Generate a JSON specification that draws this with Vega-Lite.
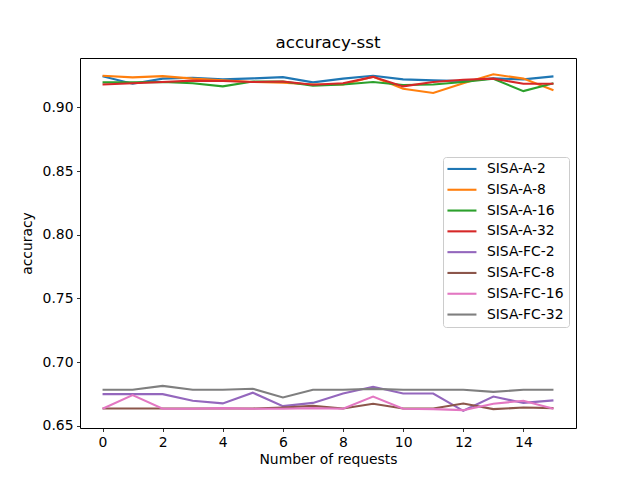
{
  "$schema": "https://vega.github.io/schema/vega-lite/v6.json",
  "width": 496,
  "height": 370,
  "autosize": {"type": "none"},
  "padding": {"left": 80, "top": 58, "right": 64, "bottom": 52},
  "title": {"text": "accuracy-sst", "fontSize": 16.7, "fontWeight": "normal", "font": "DejaVu Sans", "color": "black", "baseline": "alphabetic", "offset": -7},
  "config": {
    "font": "DejaVu Sans",
    "view": {"stroke": "black", "strokeWidth": 1},
    "axis": {
      "domain": false, "grid": false, "tickColor": "black", "tickSize": 3.5, "tickWidth": 0.8,
      "labelFontSize": 13.9, "labelColor": "black", "labelPadding": 3.5,
      "titleFontSize": 13.9, "titleFontWeight": "normal", "titleColor": "black"
    }
  },
  "data": {
    "values": [
      {"series": "SISA-A-2", "x": 0, "acc": 0.9244}, {"series": "SISA-A-2", "x": 1, "acc": 0.9186},
      {"series": "SISA-A-2", "x": 2, "acc": 0.9226}, {"series": "SISA-A-2", "x": 3, "acc": 0.9233},
      {"series": "SISA-A-2", "x": 4, "acc": 0.922}, {"series": "SISA-A-2", "x": 5, "acc": 0.9228},
      {"series": "SISA-A-2", "x": 6, "acc": 0.9238}, {"series": "SISA-A-2", "x": 7, "acc": 0.9197},
      {"series": "SISA-A-2", "x": 8, "acc": 0.9226}, {"series": "SISA-A-2", "x": 9, "acc": 0.9249},
      {"series": "SISA-A-2", "x": 10, "acc": 0.922}, {"series": "SISA-A-2", "x": 11, "acc": 0.9212},
      {"series": "SISA-A-2", "x": 12, "acc": 0.9207}, {"series": "SISA-A-2", "x": 13, "acc": 0.9228},
      {"series": "SISA-A-2", "x": 14, "acc": 0.922}, {"series": "SISA-A-2", "x": 15, "acc": 0.9244},

      {"series": "SISA-A-8", "x": 0, "acc": 0.9249}, {"series": "SISA-A-8", "x": 1, "acc": 0.9236},
      {"series": "SISA-A-8", "x": 2, "acc": 0.9246}, {"series": "SISA-A-8", "x": 3, "acc": 0.9226},
      {"series": "SISA-A-8", "x": 4, "acc": 0.9212}, {"series": "SISA-A-8", "x": 5, "acc": 0.92},
      {"series": "SISA-A-8", "x": 6, "acc": 0.9194}, {"series": "SISA-A-8", "x": 7, "acc": 0.918},
      {"series": "SISA-A-8", "x": 8, "acc": 0.918}, {"series": "SISA-A-8", "x": 9, "acc": 0.924},
      {"series": "SISA-A-8", "x": 10, "acc": 0.9147}, {"series": "SISA-A-8", "x": 11, "acc": 0.9113},
      {"series": "SISA-A-8", "x": 12, "acc": 0.919}, {"series": "SISA-A-8", "x": 13, "acc": 0.926},
      {"series": "SISA-A-8", "x": 14, "acc": 0.9226}, {"series": "SISA-A-8", "x": 15, "acc": 0.9134},

      {"series": "SISA-A-16", "x": 0, "acc": 0.9197}, {"series": "SISA-A-16", "x": 1, "acc": 0.9197},
      {"series": "SISA-A-16", "x": 2, "acc": 0.92}, {"series": "SISA-A-16", "x": 3, "acc": 0.919},
      {"series": "SISA-A-16", "x": 4, "acc": 0.9165}, {"series": "SISA-A-16", "x": 5, "acc": 0.9203},
      {"series": "SISA-A-16", "x": 6, "acc": 0.9203}, {"series": "SISA-A-16", "x": 7, "acc": 0.9171},
      {"series": "SISA-A-16", "x": 8, "acc": 0.918}, {"series": "SISA-A-16", "x": 9, "acc": 0.92},
      {"series": "SISA-A-16", "x": 10, "acc": 0.9176}, {"series": "SISA-A-16", "x": 11, "acc": 0.918},
      {"series": "SISA-A-16", "x": 12, "acc": 0.92}, {"series": "SISA-A-16", "x": 13, "acc": 0.9225},
      {"series": "SISA-A-16", "x": 14, "acc": 0.9128}, {"series": "SISA-A-16", "x": 15, "acc": 0.919},

      {"series": "SISA-A-32", "x": 0, "acc": 0.918}, {"series": "SISA-A-32", "x": 1, "acc": 0.919},
      {"series": "SISA-A-32", "x": 2, "acc": 0.92}, {"series": "SISA-A-32", "x": 3, "acc": 0.921},
      {"series": "SISA-A-32", "x": 4, "acc": 0.9207}, {"series": "SISA-A-32", "x": 5, "acc": 0.92},
      {"series": "SISA-A-32", "x": 6, "acc": 0.9203}, {"series": "SISA-A-32", "x": 7, "acc": 0.9178},
      {"series": "SISA-A-32", "x": 8, "acc": 0.919}, {"series": "SISA-A-32", "x": 9, "acc": 0.924},
      {"series": "SISA-A-32", "x": 10, "acc": 0.9165}, {"series": "SISA-A-32", "x": 11, "acc": 0.92},
      {"series": "SISA-A-32", "x": 12, "acc": 0.9217}, {"series": "SISA-A-32", "x": 13, "acc": 0.9226},
      {"series": "SISA-A-32", "x": 14, "acc": 0.9186}, {"series": "SISA-A-32", "x": 15, "acc": 0.9186},

      {"series": "SISA-FC-2", "x": 0, "acc": 0.6749}, {"series": "SISA-FC-2", "x": 1, "acc": 0.6749},
      {"series": "SISA-FC-2", "x": 2, "acc": 0.6749}, {"series": "SISA-FC-2", "x": 3, "acc": 0.6697},
      {"series": "SISA-FC-2", "x": 4, "acc": 0.6676}, {"series": "SISA-FC-2", "x": 5, "acc": 0.676},
      {"series": "SISA-FC-2", "x": 6, "acc": 0.6655}, {"series": "SISA-FC-2", "x": 7, "acc": 0.668},
      {"series": "SISA-FC-2", "x": 8, "acc": 0.6754}, {"series": "SISA-FC-2", "x": 9, "acc": 0.6807},
      {"series": "SISA-FC-2", "x": 10, "acc": 0.6754}, {"series": "SISA-FC-2", "x": 11, "acc": 0.6754},
      {"series": "SISA-FC-2", "x": 12, "acc": 0.6618}, {"series": "SISA-FC-2", "x": 13, "acc": 0.673},
      {"series": "SISA-FC-2", "x": 14, "acc": 0.668}, {"series": "SISA-FC-2", "x": 15, "acc": 0.67},

      {"series": "SISA-FC-8", "x": 0, "acc": 0.6636}, {"series": "SISA-FC-8", "x": 1, "acc": 0.6636},
      {"series": "SISA-FC-8", "x": 2, "acc": 0.6636}, {"series": "SISA-FC-8", "x": 3, "acc": 0.6636},
      {"series": "SISA-FC-8", "x": 4, "acc": 0.6636}, {"series": "SISA-FC-8", "x": 5, "acc": 0.6636},
      {"series": "SISA-FC-8", "x": 6, "acc": 0.6644}, {"series": "SISA-FC-8", "x": 7, "acc": 0.6657},
      {"series": "SISA-FC-8", "x": 8, "acc": 0.6636}, {"series": "SISA-FC-8", "x": 9, "acc": 0.6673},
      {"series": "SISA-FC-8", "x": 10, "acc": 0.6636}, {"series": "SISA-FC-8", "x": 11, "acc": 0.6636},
      {"series": "SISA-FC-8", "x": 12, "acc": 0.6675}, {"series": "SISA-FC-8", "x": 13, "acc": 0.6631},
      {"series": "SISA-FC-8", "x": 14, "acc": 0.6644}, {"series": "SISA-FC-8", "x": 15, "acc": 0.6639},

      {"series": "SISA-FC-16", "x": 0, "acc": 0.6634}, {"series": "SISA-FC-16", "x": 1, "acc": 0.6741},
      {"series": "SISA-FC-16", "x": 2, "acc": 0.6634}, {"series": "SISA-FC-16", "x": 3, "acc": 0.6634},
      {"series": "SISA-FC-16", "x": 4, "acc": 0.6639}, {"series": "SISA-FC-16", "x": 5, "acc": 0.6634},
      {"series": "SISA-FC-16", "x": 6, "acc": 0.6634}, {"series": "SISA-FC-16", "x": 7, "acc": 0.6639},
      {"series": "SISA-FC-16", "x": 8, "acc": 0.6634}, {"series": "SISA-FC-16", "x": 9, "acc": 0.673},
      {"series": "SISA-FC-16", "x": 10, "acc": 0.6634}, {"series": "SISA-FC-16", "x": 11, "acc": 0.6631},
      {"series": "SISA-FC-16", "x": 12, "acc": 0.6623}, {"series": "SISA-FC-16", "x": 13, "acc": 0.6673},
      {"series": "SISA-FC-16", "x": 14, "acc": 0.6697}, {"series": "SISA-FC-16", "x": 15, "acc": 0.6634},

      {"series": "SISA-FC-32", "x": 0, "acc": 0.6783}, {"series": "SISA-FC-32", "x": 1, "acc": 0.6783},
      {"series": "SISA-FC-32", "x": 2, "acc": 0.6814}, {"series": "SISA-FC-32", "x": 3, "acc": 0.6783},
      {"series": "SISA-FC-32", "x": 4, "acc": 0.6783}, {"series": "SISA-FC-32", "x": 5, "acc": 0.6791},
      {"series": "SISA-FC-32", "x": 6, "acc": 0.6723}, {"series": "SISA-FC-32", "x": 7, "acc": 0.6783},
      {"series": "SISA-FC-32", "x": 8, "acc": 0.6783}, {"series": "SISA-FC-32", "x": 9, "acc": 0.679},
      {"series": "SISA-FC-32", "x": 10, "acc": 0.6783}, {"series": "SISA-FC-32", "x": 11, "acc": 0.6783},
      {"series": "SISA-FC-32", "x": 12, "acc": 0.6783}, {"series": "SISA-FC-32", "x": 13, "acc": 0.6767},
      {"series": "SISA-FC-32", "x": 14, "acc": 0.6783}, {"series": "SISA-FC-32", "x": 15, "acc": 0.6783}
    ]
  },
  "mark": {"type": "line", "strokeWidth": 2.1},
  "encoding": {
    "x": {
      "field": "x", "type": "quantitative", "title": "Number of requests",
      "scale": {"domain": [-0.75, 15.75], "nice": false, "zero": false},
      "axis": {"values": [0, 2, 4, 6, 8, 10, 12, 14], "titlePadding": 4}
    },
    "y": {
      "field": "acc", "type": "quantitative", "title": "accuracy",
      "scale": {"domain": [0.6483, 0.9388], "nice": false, "zero": false},
      "axis": {"values": [0.65, 0.7, 0.75, 0.8, 0.85, 0.9], "format": ".2f", "titlePadding": 8}
    },
    "color": {
      "field": "series", "type": "nominal", "title": null,
      "scale": {
        "domain": ["SISA-A-2", "SISA-A-8", "SISA-A-16", "SISA-A-32", "SISA-FC-2", "SISA-FC-8", "SISA-FC-16", "SISA-FC-32"],
        "range": ["#1f77b4", "#ff7f0e", "#2ca02c", "#d62728", "#9467bd", "#8c564b", "#e377c2", "#7f7f7f"]
      },
      "legend": {
        "orient": "none", "legendX": 363, "legendY": 99,
        "symbolType": "M-2.9,0H2.9", "symbolSize": 100, "symbolStrokeWidth": 2.1,
        "symbolFillColor": "transparent", "symbolOffset": 7,
        "labelFontSize": 13.9, "labelColor": "black", "labelOffset": 18,
        "rowPadding": 5.8, "padding": 5,
        "strokeColor": "#cccccc", "fillColor": "white", "cornerRadius": 3
      }
    }
  }
}
